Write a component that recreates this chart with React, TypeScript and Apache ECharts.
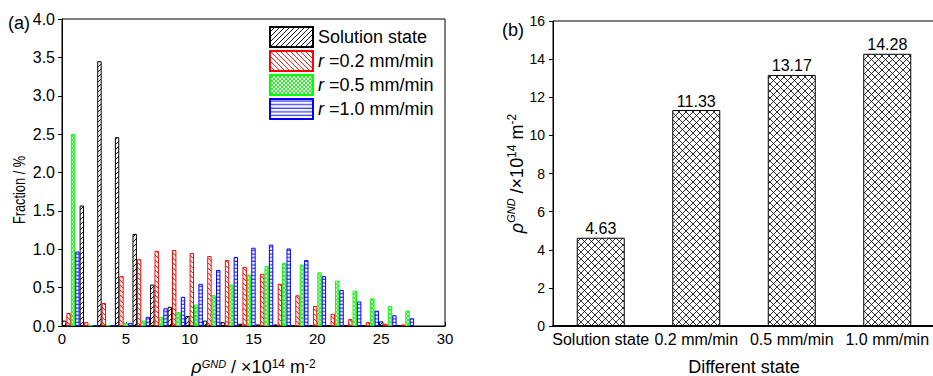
import React, { useEffect, useRef } from 'react';
import * as echarts from 'echarts';

// ---------- Data ----------
// (a) histogram: bin centres on the rho_GND axis (x 10^14 m^-2)
const binCenters = [0.69, 2.07, 3.45, 4.83, 6.21, 7.59, 8.96, 10.34, 11.72, 13.1, 14.48, 15.86, 17.24, 18.62, 20.0, 21.38, 22.76, 24.14, 25.52, 26.89];
const solutionState = [0.07, 1.57, 3.45, 2.46, 1.2, 0.54, 0.25, 0.13, 0.07, 0.05, 0.03, 0.02, 0.02, 0.01, 0.01, 0.01, 0.005, 0.005, 0.06, 0.005];
const rate02 = [0.17, 0.05, 0.3, 0.65, 0.87, 0.98, 0.99, 0.95, 0.91, 0.86, 0.77, 0.68, 0.55, 0.4, 0.26, 0.16, 0.09, 0.05, 0.03, 0.02];
const rate05 = [2.5, 0.01, 0.01, 0.04, 0.07, 0.12, 0.18, 0.28, 0.4, 0.54, 0.67, 0.78, 0.82, 0.8, 0.7, 0.59, 0.46, 0.36, 0.26, 0.2];
const rate10 = [0.97, 0.01, 0.01, 0.04, 0.12, 0.23, 0.38, 0.55, 0.73, 0.9, 1.02, 1.06, 1.01, 0.86, 0.65, 0.47, 0.32, 0.2, 0.14, 0.1];
const seriesNames = ['Solution state', 'r =0.2 mm/min', 'r =0.5 mm/min', 'r =1.0 mm/min'];

// (b) average GND density
const states = ['Solution state', '0.2 mm/min', '0.5 mm/min', '1.0 mm/min'];
const gndDensity = [4.63, 11.33, 13.17, 14.28];

const FONT = '"Liberation Sans", Arial, Helvetica, sans-serif';

function svgPattern(body: string, w: number, h: number) {
  const svg = `<svg xmlns="http://www.w3.org/2000/svg" width="${w}" height="${h}"><rect width="${w}" height="${h}" fill="#fff"/>${body}</svg>`;
  return {
    image: 'data:image/svg+xml;charset=utf-8,' + encodeURIComponent(svg),
    repeat: 'repeat',
    imageWidth: w,
    imageHeight: h,
  };
}

const patBlack = svgPattern('<path d="M-1,1 L1,-1 M0,5 L5,0 M4,6 L6,4" stroke="#000" stroke-width="0.9" fill="none"/>', 5, 5);
const patRed = svgPattern('<path d="M-1,4 L1,6 M0,0 L5,5 M4,-1 L6,1" stroke="#ff0000" stroke-width="0.9" fill="none"/>', 5, 5);
const patGreen = svgPattern('<path d="M0,0 L4,4 M-1,3 L1,5 M3,-1 L5,1 M0,4 L4,0 M-1,1 L1,-1 M3,5 L5,3" stroke="#00ff00" stroke-width="0.9" fill="none"/>', 4, 4);
const patBlue = svgPattern('<rect x="0" y="1.5" width="4" height="1" fill="#0000ff"/>', 4, 3.6);
const patCross = svgPattern('<path d="M0,0 L7,7 M-1,6 L1,8 M6,-1 L8,1 M0,7 L7,0 M-1,1 L1,-1 M6,8 L8,6" stroke="#000" stroke-width="0.8" fill="none"/>', 7, 7);

const seriesValues = [solutionState, rate02, rate05, rate10];
const seriesColors = ['#000000', '#ff0000', '#00ff00', '#0000ff'];
const seriesPatterns = [patBlack, patRed, patGreen, patBlue];

export default function App() {
  const ref = useRef<HTMLDivElement>(null);

  useEffect(() => {
    if (!ref.current) return;
    const chart = echarts.init(ref.current, null, { renderer: 'svg' });

    const supRich = {
      t: { fontSize: 18, fontFamily: FONT, color: '#000', lineHeight: 22 },
      rho: { fontSize: 18, fontFamily: FONT, fontStyle: 'italic', color: '#000', lineHeight: 22 },
      g: { fontSize: 11, fontFamily: FONT, fontStyle: 'italic', color: '#000', verticalAlign: 'top', lineHeight: 11 },
      s: { fontSize: 12, fontFamily: FONT, color: '#000', verticalAlign: 'top', lineHeight: 12 },
    };
    const supRichCompact = {
      t: { fontSize: 18, fontFamily: FONT, color: '#000', lineHeight: 18 },
      rho: { fontSize: 18, fontFamily: FONT, fontStyle: 'italic', color: '#000', lineHeight: 18 },
      g: { fontSize: 11, fontFamily: FONT, fontStyle: 'italic', color: '#000', verticalAlign: 'top', lineHeight: 9 },
      s: { fontSize: 12, fontFamily: FONT, color: '#000', verticalAlign: 'top', lineHeight: 10 },
    };

    const histSeries = seriesNames.map((name, si) => ({
      type: 'bar',
      name,
      xAxisIndex: 0,
      yAxisIndex: 0,
      data: binCenters.map((x, i) => [x, seriesValues[si][i]]),
      barWidth: 4.4,
      barGap: '0%',
      itemStyle: { color: seriesPatterns[si], borderColor: seriesColors[si], borderWidth: 1 },
    }));

    chart.setOption({
      animation: false,
      backgroundColor: '#fff',
      textStyle: { fontFamily: FONT },
      grid: [
        { left: 62, top: 19, width: 383, height: 307, show: true, borderColor: '#000', borderWidth: 1, backgroundColor: 'transparent', containLabel: false, outerBoundsMode: 'none' },
        { left: 553, top: 21, width: 382, height: 305, show: true, borderColor: '#000', borderWidth: 1, backgroundColor: 'transparent', containLabel: false, outerBoundsMode: 'none' },
      ],
      legend: {
        orient: 'vertical',
        left: 269,
        top: 26,
        itemWidth: 43,
        itemHeight: 20,
        itemGap: 2,
        padding: 0,
        icon: 'rect',
        selectedMode: false,
        data: seriesNames,
        formatter: (n: string) => (n.startsWith('r ') ? '{i|r}' + n.slice(1) : n),
        textStyle: {
          fontSize: 18,
          color: '#000',
          fontFamily: FONT,
          rich: { i: { fontSize: 18, fontStyle: 'italic', color: '#000', fontFamily: FONT } },
        },
      },
      xAxis: [
        {
          type: 'value',
          gridIndex: 0,
          min: 0,
          max: 30,
          interval: 5,
          splitLine: { show: false },
          axisLine: { lineStyle: { color: '#000', width: 1 } },
          axisTick: { show: true, inside: true, length: 4, lineStyle: { color: '#000' } },
          axisLabel: { fontSize: 15, color: '#000', margin: 5, fontFamily: FONT },
          name: '{rho|ρ}{g|GND}{t| / ×10}{s|14}{t| m}{s|-2}',
          nameLocation: 'middle',
          nameGap: 32,
          nameTextStyle: { fontSize: 18, color: '#000', fontFamily: FONT, rich: supRichCompact },
        },
        {
          type: 'category',
          gridIndex: 1,
          data: states,
          axisLine: { lineStyle: { color: '#000', width: 2 } },
          axisTick: { show: true, inside: true, alignWithLabel: true, length: 4, lineStyle: { color: '#000' } },
          axisLabel: { fontSize: 16, color: '#000', margin: 5, interval: 0, fontFamily: FONT },
          name: 'Different state',
          nameLocation: 'middle',
          nameGap: 32,
          nameTextStyle: { fontSize: 18, color: '#000', fontFamily: FONT },
        },
      ],
      yAxis: [
        {
          type: 'value',
          gridIndex: 0,
          min: 0,
          max: 4,
          interval: 0.5,
          splitLine: { show: false },
          axisLine: { show: true, lineStyle: { color: '#000', width: 1 } },
          axisTick: { show: true, inside: false, length: 4, lineStyle: { color: '#000' } },
          axisLabel: { fontSize: 16, color: '#000', margin: 7, fontFamily: FONT, formatter: (v: number) => v.toFixed(1) },
        },
        {
          type: 'value',
          gridIndex: 1,
          min: 0,
          max: 16,
          interval: 2,
          splitLine: { show: false },
          axisLine: { show: true, lineStyle: { color: '#000', width: 1 } },
          axisTick: { show: true, inside: false, length: 4, lineStyle: { color: '#000' } },
          axisLabel: { fontSize: 14, color: '#000', margin: 8, fontFamily: FONT },
          name: '{rho|ρ}{g|GND}{t| /×10}{s|14}{t| m}{s|-2}',
          nameLocation: 'middle',
          nameGap: 22,
          nameRotate: 90,
          nameTextStyle: { fontSize: 18, color: '#000', fontFamily: FONT, rich: supRich },
        },
      ],
      series: [
        ...histSeries,
        {
          type: 'bar',
          name: 'GND density',
          xAxisIndex: 1,
          yAxisIndex: 1,
          data: gndDensity,
          barWidth: 48,
          itemStyle: { color: patCross, borderColor: '#000', borderWidth: 1 },
          label: { show: true, position: 'top', distance: 1, fontSize: 16, color: '#000', fontFamily: FONT, formatter: (p: any) => p.value.toFixed(2) },
        },
      ],
      graphic: [
        { type: 'text', left: 8, top: 14, style: { text: '(a)', fontSize: 18, fontFamily: FONT, fill: '#000' } },
        { type: 'text', left: 502, top: 21, style: { text: '(b)', fontSize: 18, fontFamily: FONT, fill: '#000' } },
        {
          type: 'text',
          x: 19,
          y: 190,
          rotation: Math.PI / 2,
          scaleX: 0.8,
          style: { text: 'Fraction / %', fontSize: 16, fontFamily: FONT, fill: '#000', align: 'center', verticalAlign: 'middle' },
        },
      ],
    });

    return () => chart.dispose();
  }, []);

  return (
    <div style={{ position: 'fixed', left: 0, top: 0, width: 933, height: 376, background: '#fff' }}>
      <div ref={ref} style={{ width: 933, height: 376 }} />
    </div>
  );
}
